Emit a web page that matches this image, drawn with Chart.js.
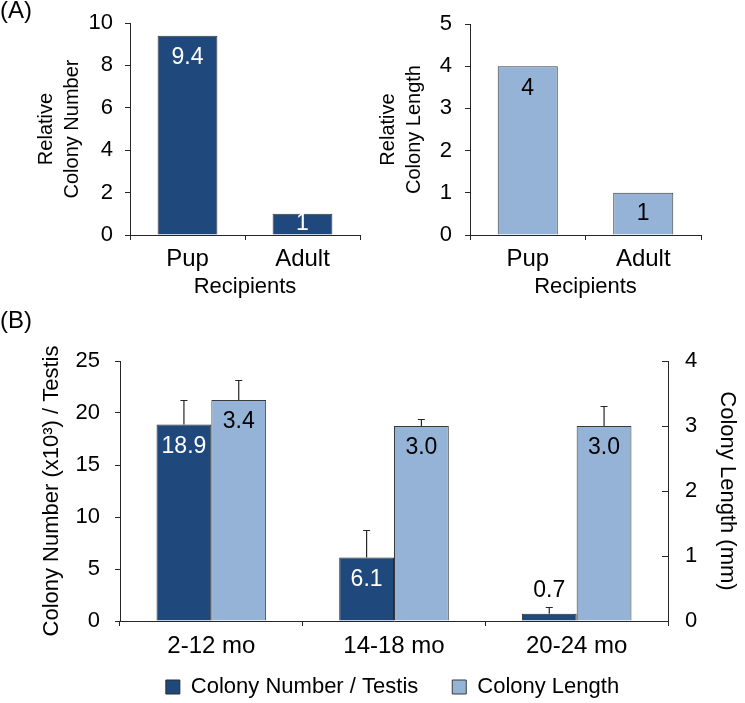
<!DOCTYPE html>
<html>
<head>
<meta charset="utf-8">
<script src="https://cdn.jsdelivr.net/npm/chart.js@4.4.1/dist/chart.umd.min.js"></script>
<style>
  body { margin: 0; background: #fff; font-family: "Liberation Sans", Arial, sans-serif; }
  #page { position: relative; width: 745px; height: 703px; overflow: hidden; }
  canvas { position: absolute; }
  .panel { position: absolute; font-size: 24px; color: #000; }
</style>
</head>
<body>
<div id="page">
  <canvas id="numberChart" width="372" height="300" style="left:0;top:0"></canvas>
  <canvas id="lengthChart" width="373" height="300" style="left:372px;top:0"></canvas>
  <canvas id="ageChart" width="745" height="403" style="left:0;top:300px"></canvas>
  <div class="panel" style="left:0;top:-4px">(A)</div>
  <div class="panel" style="left:0;top:306px">(B)</div>
</div>
<script>
// (A) transplant recipients
const recipients = ['Pup', 'Adult'];
const relativeNumber = [9.4, 1];
const relativeLength = [4, 1];

// (B) donor age
const ageGroups = ['2-12 mo', '14-18 mo', '20-24 mo'];
const colonyNumber = [18.9, 6.1, 0.7];
const colonyNumberErr = [2.3, 2.6, 0.6];
const colonyLength = [3.4, 3.0, 3.0];
const colonyLengthErr = [0.3, 0.1, 0.3];

const DARK = '#1F497D';
const LIGHT = '#95B3D7';
const AXIS = '#262626';

Chart.defaults.font.family = '"Liberation Sans", Arial, sans-serif';
Chart.defaults.color = '#000';
Chart.defaults.animation = false;

// error whiskers + value labels inside the bars
const barExtras = {
  id: 'barExtras',
  afterDatasetsDraw(chart, args, opts) {
    const ctx = chart.ctx;
    chart.data.datasets.forEach((ds, i) => {
      const meta = chart.getDatasetMeta(i);
      const scale = chart.scales[meta.yAxisID];
      meta.data.forEach((bar, j) => {
        const v = ds.data[j];
        let capY = null;
        if (ds.errors) {
          capY = scale.getPixelForValue(v + ds.errors[j]);
          ctx.save();
          ctx.strokeStyle = AXIS;
          ctx.lineWidth = 1.2;
          ctx.beginPath();
          ctx.moveTo(bar.x, bar.y);
          ctx.lineTo(bar.x, capY);
          ctx.moveTo(bar.x - 3.5, capY);
          ctx.lineTo(bar.x + 3.5, capY);
          ctx.stroke();
          ctx.restore();
        }
        const h = bar.base - bar.y;
        let y, color;
        if (h < 15) {
          y = (capY !== null ? capY : bar.y) - 17;
          color = '#000';
        } else {
          y = bar.y + Math.min(22, h / 2);
          color = ds.labelColor;
        }
        const text = opts.decimals != null ? v.toFixed(opts.decimals) : String(v);
        ctx.save();
        ctx.font = opts.size + 'px "Liberation Sans", Arial, sans-serif';
        ctx.fillStyle = color;
        ctx.textAlign = 'center';
        ctx.textBaseline = 'middle';
        ctx.fillText(text, bar.x, y);
        ctx.restore();
      });
    });
  }
};

const gridOpts = { drawOnChartArea: false, tickLength: 5, color: AXIS };

function recipientChart(id, values, color, labelColor, max, step, title, yWidth, titlePad, tickPad, rightPad) {
  return new Chart(document.getElementById(id), {
    type: 'bar',
    data: {
      labels: recipients,
      datasets: [{
        data: values,
        backgroundColor: color,
        borderColor: '#3a3a3a',
        borderWidth: 1,
        labelColor: labelColor,
        categoryPercentage: 0.52,
        barPercentage: 1
      }]
    },
    options: {
      responsive: false,
      layout: { padding: { top: 10, right: rightPad } },
      plugins: {
        legend: { display: false },
        tooltip: { enabled: false },
        barExtras: { size: 23 }
      },
      scales: {
        x: {
          grid: gridOpts,
          border: { color: AXIS },
          ticks: { font: { size: 24 }, padding: 5 },
          title: { display: true, text: 'Recipients', font: { size: 22 }, padding: 0 },
          afterFit: s => { s.height = 65; }
        },
        y: {
          min: 0, max: max,
          grid: gridOpts,
          border: { color: AXIS },
          ticks: { stepSize: step, font: { size: 22, lineHeight: 1 }, padding: tickPad },
          title: { display: true, text: title, font: { size: 20, lineHeight: 1.3 }, padding: { top: titlePad } },
          afterFit: s => { s.width = yWidth; }
        }
      }
    },
    plugins: [barExtras]
  });
}

recipientChart('numberChart', relativeNumber, DARK, '#fff', 10, 2,
  ['Relative', 'Colony Number'], 130, 33, 12, 12);
recipientChart('lengthChart', relativeLength, LIGHT, '#000', 5, 1,
  ['Relative', 'Colony Length'], 98, 3, 13, 44);

// legend: moved so it sits where the reference has it
const legendPlace = {
  id: 'legendPlace',
  afterLayout(chart) {
    const lg = chart.legend;
    lg.top = 342;
    lg.bottom = chart.height;
    lg.height = lg.bottom - lg.top;
    lg.left += 20;
    lg.right += 20;
  }
};

new Chart(document.getElementById('ageChart'), {
  type: 'bar',
  data: {
    labels: ageGroups,
    datasets: [{
      label: 'Colony Number / Testis',
      data: colonyNumber,
      errors: colonyNumberErr,
      yAxisID: 'y',
      backgroundColor: DARK,
      borderColor: '#2a2a2a',
      borderWidth: 1,
      labelColor: '#fff',
      categoryPercentage: 0.6,
      barPercentage: 1
    }, {
      label: 'Colony Length',
      data: colonyLength,
      errors: colonyLengthErr,
      yAxisID: 'y1',
      backgroundColor: LIGHT,
      borderColor: '#3a3a3a',
      borderWidth: 1,
      labelColor: '#000',
      categoryPercentage: 0.6,
      barPercentage: 1
    }]
  },
  options: {
    responsive: false,
    layout: { padding: { top: 61, bottom: -24 } },
    plugins: {
      legend: {
        position: 'bottom',
        labels: { boxWidth: 14, boxHeight: 14, padding: 34, font: { size: 22 } }
      },
      tooltip: { enabled: false },
      barExtras: { size: 23, decimals: 1 }
    },
    scales: {
      x: {
        grid: gridOpts,
        border: { color: AXIS },
        ticks: { font: { size: 24 }, padding: 6 },
        afterFit: s => { s.height = 40; }
      },
      y: {
        position: 'left',
        min: 0, max: 25,
        grid: gridOpts,
        border: { color: AXIS },
        ticks: { stepSize: 5, font: { size: 22, lineHeight: 1 }, padding: 15 },
        title: { display: true, text: 'Colony Number (x10³) / Testis', font: { size: 22 }, padding: { top: 39 } },
        afterFit: s => { s.width = 120; }
      },
      y1: {
        position: 'right',
        min: 0, max: 4,
        grid: { drawOnChartArea: false, tickLength: -6, color: AXIS },
        border: { color: AXIS },
        ticks: { stepSize: 1, font: { size: 22, lineHeight: 1 }, padding: 23 },
        title: { display: true, text: 'Colony Length (mm)', font: { size: 22 }, padding: { top: 5 } },
        afterFit: s => { s.width = 77; }
      }
    }
  },
  plugins: [barExtras, legendPlace]
});
</script>
</body>
</html>
